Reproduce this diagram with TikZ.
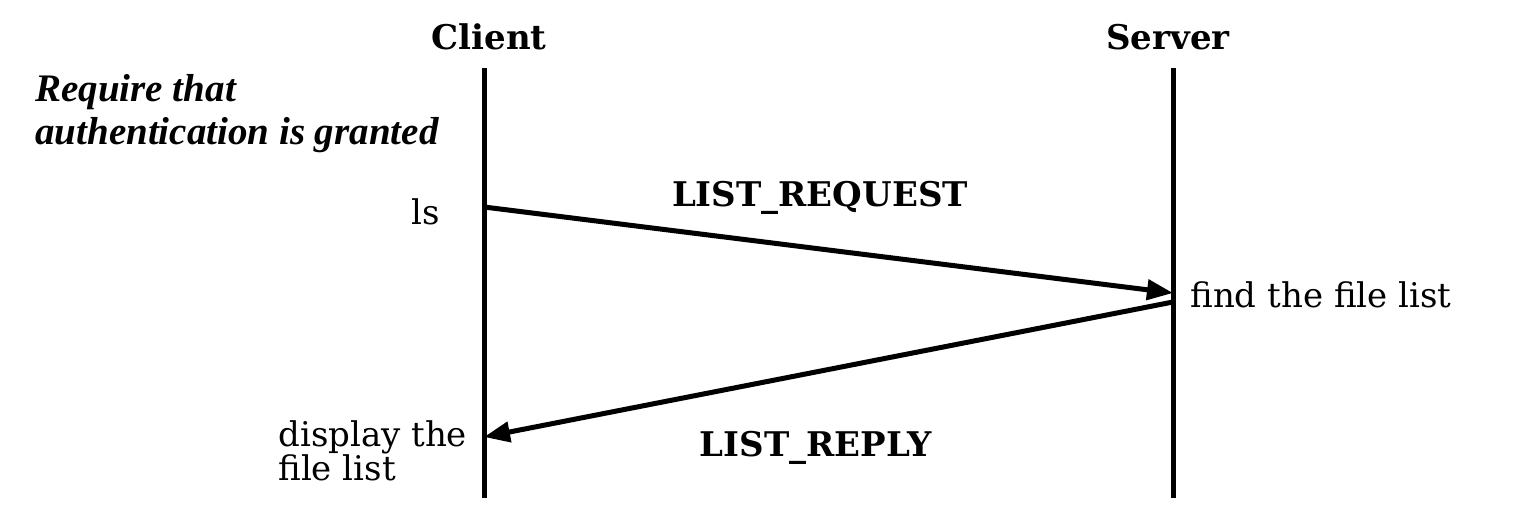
\documentclass[tikz,border=0pt]{standalone}
\usepackage{fontspec}
\setmainfont{DejaVu Serif}
\newfontfamily\notefont{Liberation Serif}
\usetikzlibrary{arrows.meta}
\begin{document}
\begin{tikzpicture}[x=0.5pt,y=0.5pt,
    lifeline/.style={line width=2.5pt},
    msg/.style={line width=2.5pt,-{Triangle[length=13pt,width=10pt]}},
    note/.style={font=\notefont\fontsize{19.5}{22}\selectfont\bfseries\itshape},
    every node/.style={font=\fontsize{17}{20}\selectfont,inner sep=0pt}]
  \useasboundingbox (0,0) rectangle (1522,524);
  % lifelines
  \coordinate (ctop) at (484,456); \coordinate (cbot) at (484,26);
  \coordinate (stop) at (1173,456); \coordinate (sbot) at (1173,26);
  \draw[lifeline] (ctop)--(cbot);
  \draw[lifeline] (stop)--(sbot);
  \node (client) [anchor=base] at (489,474) {\bfseries Client};
  \node (server) [anchor=base] at (1168,474) {\bfseries Server};
  \node (req1) [note,anchor=base west] at (35,422) {Require that};
  \node (req2) [note,anchor=base west] at (35,379) {authentication is granted};
  % messages
  \coordinate (ls) at (484,317); \coordinate (find) at (1173,231);
  \coordinate (found) at (1173,222); \coordinate (shown) at (484,87);
  \draw[msg] (ls)--(find);
  \draw[msg] (found)--(shown);
  \node (lslabel) [anchor=base east] at (440,299) {ls};
  \node (request) [anchor=base] at (820,317) {\bfseries LIST\_REQUEST};
  \node (findlabel) [anchor=base west] at (1190,216) {find the file list};
  \node (reply) [anchor=base] at (816,67) {\bfseries LIST\_REPLY};
  \node (display1) [anchor=base west] at (278,77) {display the};
  \node (display2) [anchor=base west] at (278,43) {file list};
\end{tikzpicture}
\end{document}
